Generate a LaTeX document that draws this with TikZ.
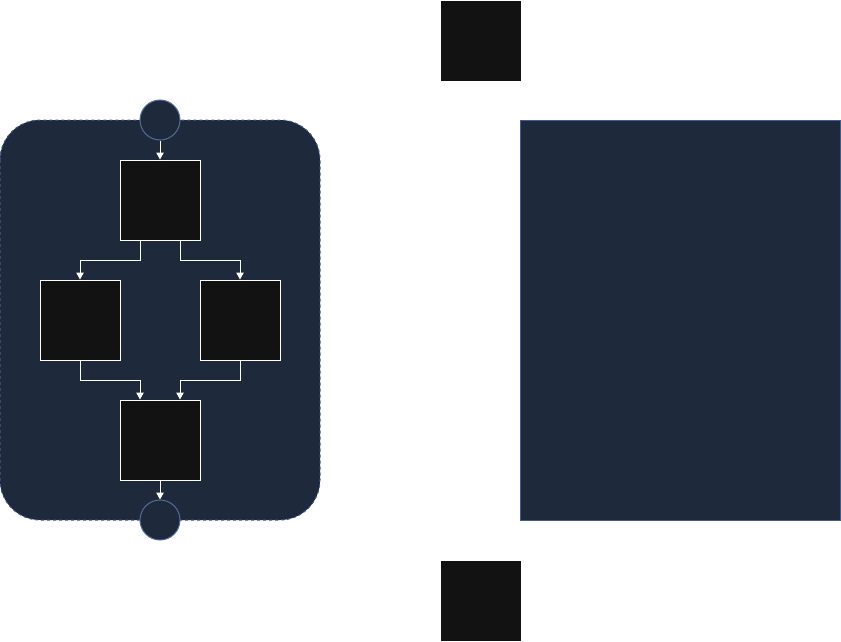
\documentclass[tikz,border=0pt]{standalone}
\usetikzlibrary{arrows.meta}
\definecolor{slate}{RGB}{30,41,59}
\definecolor{slateedge}{RGB}{62,92,140}
\definecolor{termedge}{RGB}{80,110,155}
\definecolor{boxblack}{RGB}{18,18,18}
\begin{document}
\begin{tikzpicture}[x=1pt,y=-1pt,
    stepbox/.style={draw=white,fill=boxblack,line width=1pt,minimum size=80pt,inner sep=0pt},
    plainbox/.style={fill=boxblack,minimum size=80pt,inner sep=0pt},
    term/.style={circle,draw=termedge,fill=slate,line width=1pt,minimum size=40pt,inner sep=0pt},
    flow/.style={draw=white,line width=1pt,-{Triangle[width=7.5pt,length=7pt]}}]
  \useasboundingbox (0,0) rectangle (841,641);
  % container of the flow
  \draw[slateedge,fill=slate,dashed,line width=1pt,rounded corners=40pt] (0,120) rectangle (320,520);
  \node[term] (start) at (160,120) {};
  \node[term] (stop) at (160,520) {};
  \node[stepbox] (top) at (160,200) {};
  \node[stepbox] (left) at (80,320) {};
  \node[stepbox] (right) at (240,320) {};
  \node[stepbox] (join) at (160,440) {};
  % right hand side
  \node[plainbox] (upper) at (480.5,40.5) {};
  \node[plainbox] (lower) at (480.5,600.5) {};
  \draw[slateedge,fill=slate,line width=1pt] (520,120) rectangle (840,520);
  % connectors
  \draw[flow] (start) -- (top);
  \draw[flow] ([xshift=-20pt]top.south) -- ++(0,20) -| (left.north);
  \draw[flow] ([xshift=20pt]top.south) -- ++(0,20) -| (right.north);
  \draw[flow] (left.south) -- ++(0,20) -| ([xshift=-20pt]join.north);
  \draw[flow] (right.south) -- ++(0,20) -| ([xshift=20pt]join.north);
  \draw[flow] (join) -- (stop);
\end{tikzpicture}
\end{document}
